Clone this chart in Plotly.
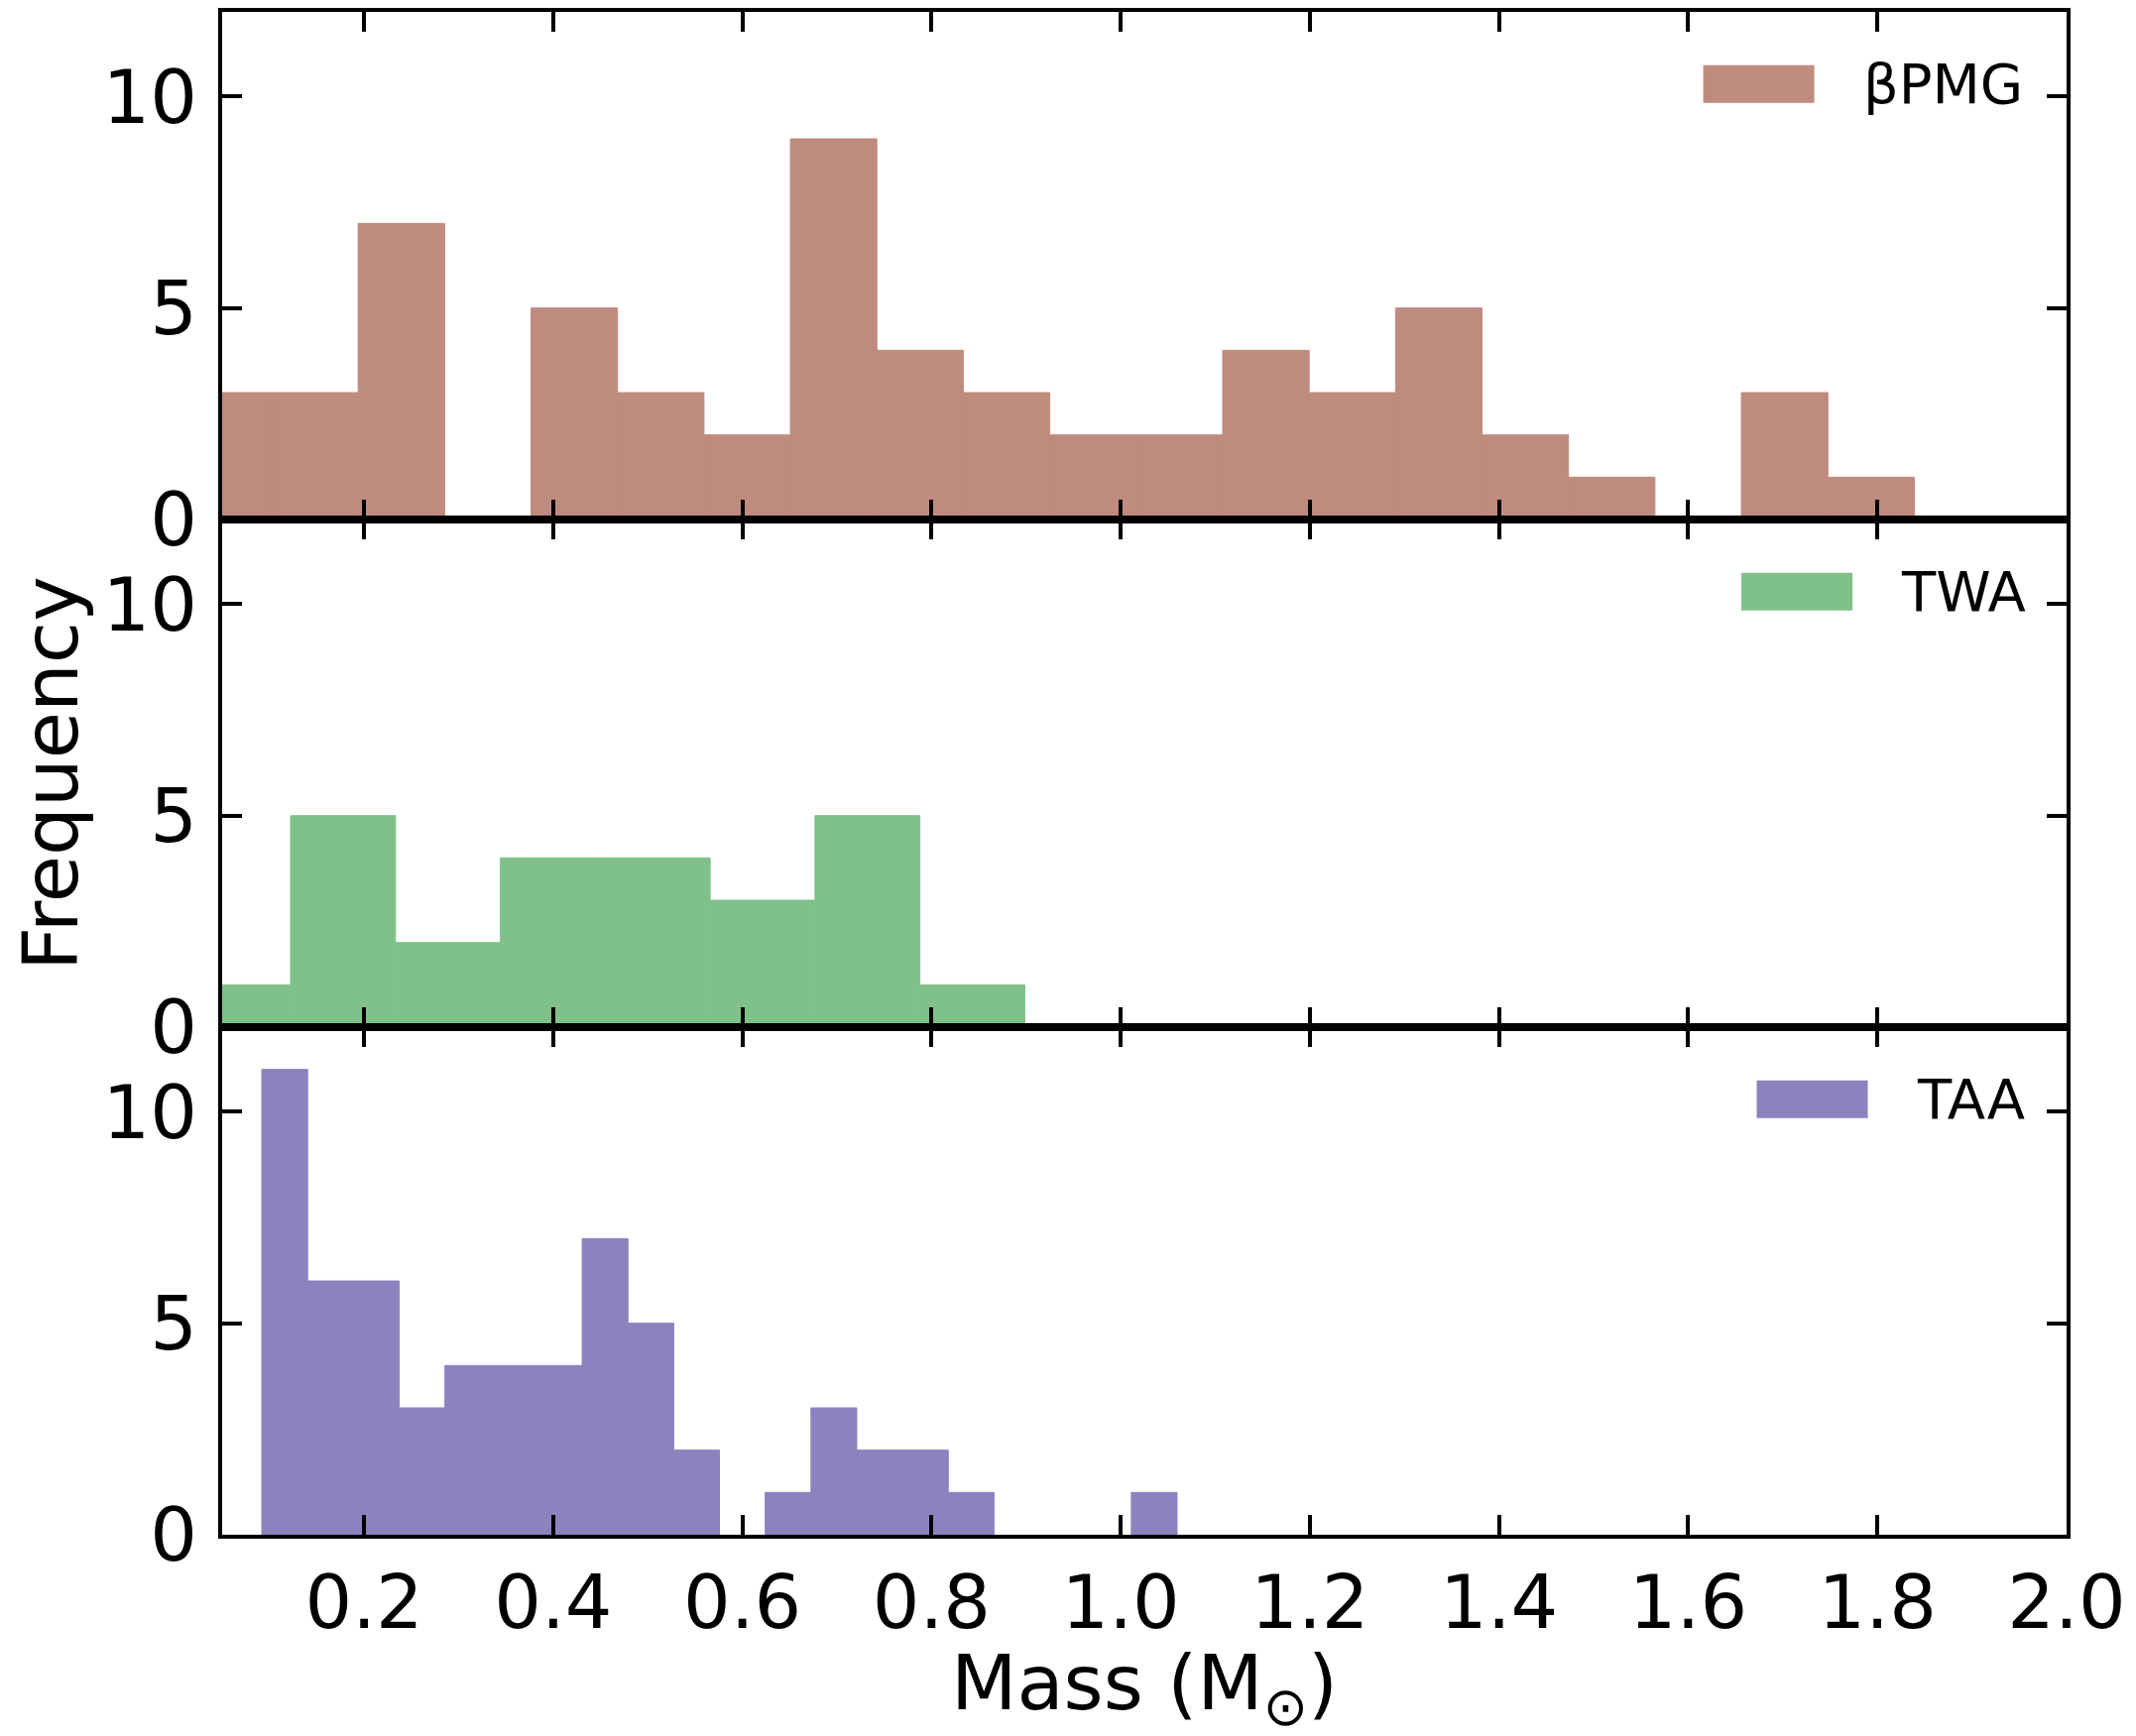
import numpy as np
import plotly.graph_objects as go
from plotly.subplots import make_subplots

# counts per bin (equal-width bins, matplotlib style)
bpmg_counts = [3, 3, 7, 0, 5, 3, 2, 9, 4, 3, 2, 2, 4, 3, 5, 2, 1, 0, 3, 1]
bpmg_range = [0.011, 1.839]

twa_counts = [1, 5, 2, 4, 4, 3, 5, 1]
twa_range = [0.0115, 0.8986]

taa_counts = [11, 6, 6, 3, 4, 4, 4, 7, 5, 2, 0, 1, 3, 2, 2, 1, 0, 0, 0, 1]
taa_range = [0.092, 1.0596]

group_names = ['βPMG', 'TWA', 'TAA']
group_colors = ['#bf8b7e', '#80c18a', '#8b82be']

x_ticks = [0.2, 0.4, 0.6, 0.8, 1.0, 1.2, 1.4, 1.6, 1.8, 2.0]
y_ticks = [0, 5, 10]

FONT = 'DejaVu Sans'

fig = make_subplots(rows=3, cols=1, shared_xaxes=False, vertical_spacing=0)

groups = [(bpmg_counts, bpmg_range), (twa_counts, twa_range), (taa_counts, taa_range)]
# legend patch left edge (x domain fraction) per panel
legend_left = [0.803, 0.8237, 0.832]
PLOT_W = 1860
PANEL_H = 514

for i, (counts, rng) in enumerate(groups):
    edges = np.linspace(rng[0], rng[1], len(counts) + 1)
    centers = (edges[:-1] + edges[1:]) / 2
    widths = np.diff(edges)
    # thin outline in the fill colour hides the seams; none for empty bins
    outline = [1 if c > 0 else 0 for c in counts]
    fig.add_trace(go.Bar(x=centers, y=counts, width=widths,
                         marker=dict(color=group_colors[i],
                                     line=dict(width=outline, color=group_colors[i])),
                         name=group_names[i], showlegend=False), i + 1, 1)

    xr = 'x domain' if i == 0 else 'x%d domain' % (i + 1)
    yr = 'y domain' if i == 0 else 'y%d domain' % (i + 1)
    pw = 112 / PLOT_W
    ph = 38 / PANEL_H
    yc = 1 - 73 / PANEL_H
    x0 = legend_left[i]
    fig.add_shape(type='rect', xref=xr, yref=yr, x0=x0, x1=x0 + pw,
                  y0=yc - ph / 2, y1=yc + ph / 2,
                  fillcolor=group_colors[i], line=dict(width=0))
    fig.add_annotation(xref=xr, yref=yr, x=x0 + pw + 47 / PLOT_W, y=yc,
                       xanchor='left', yanchor='middle', showarrow=False,
                       text=group_names[i], font=dict(family=FONT, size=56, color='black'))

axis_style = dict(showline=True, linecolor='black', linewidth=4, mirror='allticks',
                  ticks='inside', ticklen=20, tickwidth=4, tickcolor='black',
                  showgrid=False, zeroline=False,
                  tickfont=dict(family=FONT, size=75, color='black'))

for r in range(1, 4):
    fig.update_xaxes(axis_style, range=[0.05, 2.0], tickvals=x_ticks, tickformat='.1f',
                     showticklabels=(r == 3), row=r, col=1)
    fig.update_yaxes(axis_style, range=[0, 12], tickvals=y_ticks, ticklabelstandoff=6,
                     row=r, col=1)

fig.add_annotation(xref='paper', yref='paper', x=-0.093, y=0.5,
                   xanchor='center', yanchor='middle', textangle=-90, showarrow=False,
                   text='Frequency', font=dict(family=FONT, size=77, color='black'))
fig.add_annotation(xref='paper', yref='paper', x=0.5, y=-0.1006,
                   xanchor='center', yanchor='middle', showarrow=False,
                   text='Mass (M<sub>⊙</sub>)', font=dict(family=FONT, size=77, color='black'))

# the page body adds an 8px margin, so margins here are shifted by that
fig.update_layout(width=2154, height=1751, plot_bgcolor='white', paper_bgcolor='white',
                  margin=dict(l=216, r=78, t=0, b=211), barmode='overlay')

fig.write_html('out.html')
